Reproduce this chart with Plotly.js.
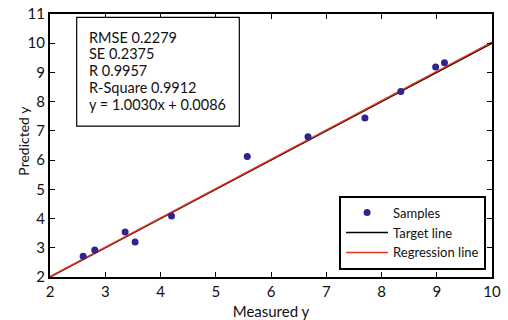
<!DOCTYPE html>
<html><head><meta charset="utf-8">
<script src="https://cdn.plot.ly/plotly-3.0.1.min.js"></script>
<style>html,body{margin:0;padding:0;background:#fff}#c{width:508px;height:320px}</style>
</head><body><div id="c"></div>
<script>
var measured = [2.60, 2.81, 3.36, 3.54, 4.20, 5.57, 6.67, 7.70, 8.35, 8.98, 9.14];
var predicted = [2.71, 2.92, 3.54, 3.20, 4.09, 6.12, 6.80, 7.44, 8.35, 9.19, 9.33];
var lineX = [2, 10];
var slope = 1.0030, intercept = 0.0086;
var regY = lineX.map(function(x){return slope*x+intercept;});
var statsText = ['RMSE 0.2279','SE 0.2375','R 0.9957','R-Square 0.9912','y = 1.0030x + 0.0086'];
var xTicks = [2,3,4,5,6,7,8,9,10];
var yTicks = [2,3,4,5,6,7,8,9,10,11];
var xTitle = 'Measured y', yTitle = 'Predicted y';

var font = 'Lato, "Open Sans", sans-serif';
var traces = [
  {x: lineX, y: lineX, mode:'lines', name:'Target line', line:{color:'#000000', width:1.5}, legendrank:2},
  {x: lineX, y: regY, mode:'lines', name:'Regression line', line:{color:'#e8321e', width:1.5}, legendrank:3},
  {x: measured, y: predicted, mode:'markers', name:'Samples', marker:{color:'#32238c', size:7}, legendrank:1}
];
var axisCommon = {showgrid:false, zeroline:false, showline:true, linecolor:'#000', linewidth:2, mirror:'ticks',
  ticks:'inside', ticklen:5, tickwidth:1, tickcolor:'#000', tickfont:{family:font, size:15, color:'#111'}};

var statsLineY = [0.9125, 0.849, 0.786, 0.722, 0.657];
var annots = statsText.map(function(t, i){
  return {xref:'paper', yref:'paper', x:0.083, y:statsLineY[i], xanchor:'left', yanchor:'middle',
    text:t, showarrow:false, font:{family:font, size:14.5, color:'#111'}};
});
annots.push({xref:'paper', yref:'paper', x:-0.062, y:0.517, xanchor:'center', yanchor:'middle',
  text:yTitle, textangle:-90, showarrow:false, font:{family:font, size:14, color:'#111'}});
var layout = {
  width:508, height:320, margin:{l:50, r:16, t:14, b:43},
  paper_bgcolor:'#fff', plot_bgcolor:'#fff',
  font:{family:font, color:'#111'},
  xaxis: Object.assign({}, axisCommon, {range:[2,10], tickvals:xTicks, ticktext:xTicks.map(String),
    title:{text:xTitle, font:{family:font, size:15}, standoff:7}}),
  yaxis: Object.assign({}, axisCommon, {range:[2,11], tickvals:yTicks, ticktext:yTicks.map(String)}),
  showlegend:true,
  legend:{x:0.654, y:0.028, xanchor:'left', yanchor:'bottom', bordercolor:'#000', borderwidth:2,
    bgcolor:'#fff', font:{family:font, size:13, color:'#111'}, tracegroupgap:0, itemwidth:42},
  shapes:[{type:'rect', xref:'paper', yref:'paper', x0:0.0604, x1:0.4283, y0:0.574, y1:0.9875,
    line:{color:'#000', width:1.2}, fillcolor:'#fff', layer:'above'}],
  annotations: annots
};
Plotly.newPlot('c', traces, layout, {displayModeBar:false, staticPlot:true});
</script></body></html>
